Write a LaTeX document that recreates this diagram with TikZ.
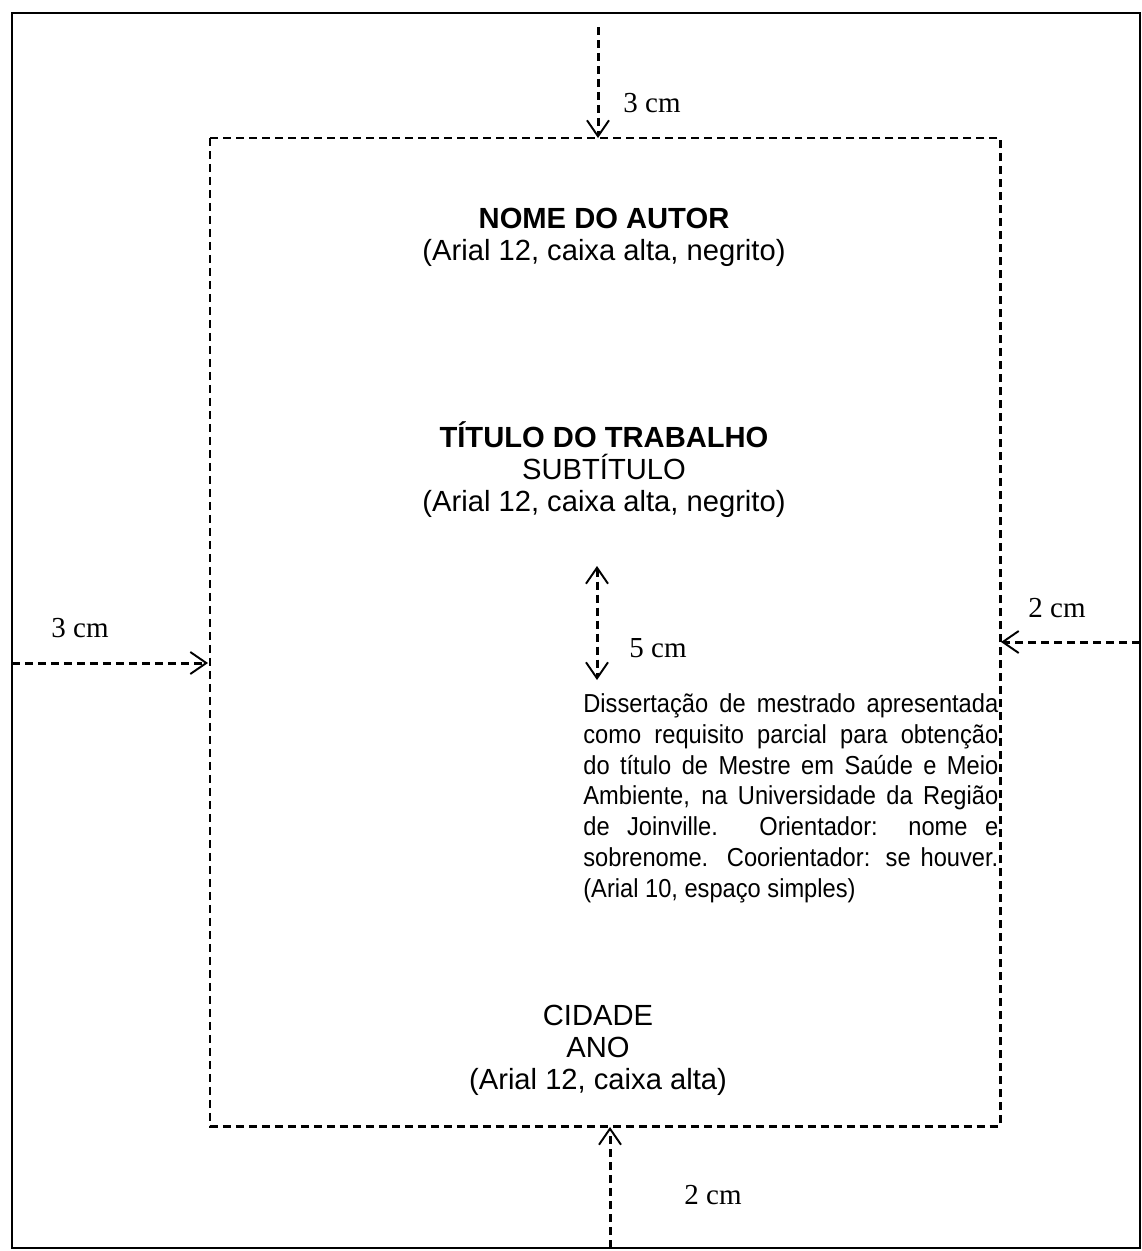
\documentclass[tikz,border=0pt]{standalone}
\usepackage{fontspec}
\setmainfont{Liberation Sans}
\newfontfamily\timesfont{Liberation Serif}
\newfontfamily\notafont[FakeStretch=0.91]{Liberation Sans}
\usetikzlibrary{arrows.meta}

\tikzset{
  margin/.style={dash pattern=on 0.16cm off 0.1cm, line width=1.7pt},
  barb/.tip={Straight Barb[length=3.2mm,width=4.4mm,line width=1.1pt]},
  measure/.style={margin, -barb},
  twoway/.style={margin, barb-barb},
  cmlabel/.style={font=\timesfont\fontsize{16.5}{18}\selectfont},
  bigtext/.style={align=center, font=\fontsize{16.6}{18.2}\selectfont},
}

\begin{document}
\begin{tikzpicture}[x=0.02cm,y=-0.02cm]
  \useasboundingbox (0,0) rectangle (1142,1251);
  % page and text area
  \coordinate (pageNW) at (12,13);
  \coordinate (pageSE) at (1140,1248);
  \coordinate (textNW) at (210,138);
  \coordinate (textSE) at (1000,1126);
  \draw[line width=1.1pt] (pageNW) rectangle (pageSE);
  \draw[margin] (textNW) rectangle (textSE);

  % margin arrows
  \coordinate (topFrom) at (598,27);   \coordinate (topTo) at (598,138);
  \coordinate (leftFrom) at (12,663);  \coordinate (leftTo) at (208,663);
  \coordinate (rightFrom) at (1140,642); \coordinate (rightTo) at (1001,642);
  \coordinate (botFrom) at (610,1248); \coordinate (botTo) at (610,1127);
  \draw[measure] (topFrom) -- (topTo);
  \draw[measure] (leftFrom) -- (leftTo);
  \draw[measure] (rightFrom) -- (rightTo);
  \draw[measure] (botFrom) -- (botTo);
  \node[cmlabel] (topLbl) at (652,103) {3 cm};
  \node[cmlabel] (leftLbl) at (80,628) {3 cm};
  \node[cmlabel] (rightLbl) at (1057,608) {2 cm};
  \node[cmlabel] (botLbl) at (713,1195) {2 cm};

  % texts
  \node[bigtext] (autor) at (604,237) {\textbf{NOME DO AUTOR}\\(Arial 12, caixa alta, negrito)};
  \node[bigtext] (titulo) at (604,470) {\textbf{TÍTULO DO TRABALHO}\\SUBTÍTULO\\(Arial 12, caixa alta, negrito)};
  \node[bigtext] (cidade) at (598,1050) {CIDADE\\ANO\\(Arial 12, caixa alta)};

  % 5 cm gap
  \coordinate (gapTop) at (597,566);
  \coordinate (gapBot) at (597,680);
  \draw[twoway] (gapTop) -- (gapBot);
  \node[cmlabel] (gapLbl) at (658,648) {5 cm};

  \node[anchor=north west, inner sep=0pt, text width=8.3cm, align=justify,
        font=\notafont\fontsize{14.8}{17.6}\selectfont] (nota) at (583,693)
    {\hyphenpenalty=10000
     Dissertação de mestrado apresentada\linebreak
     como requisito parcial para obtenção\linebreak
     do título de Mestre em Saúde e Meio\linebreak
     Ambiente, na Universidade da Região\linebreak
     de Joinville. Orientador: nome e\linebreak
     sobrenome. Coorientador: se houver.\linebreak
     (Arial 10, espaço simples)};
\end{tikzpicture}
\end{document}
